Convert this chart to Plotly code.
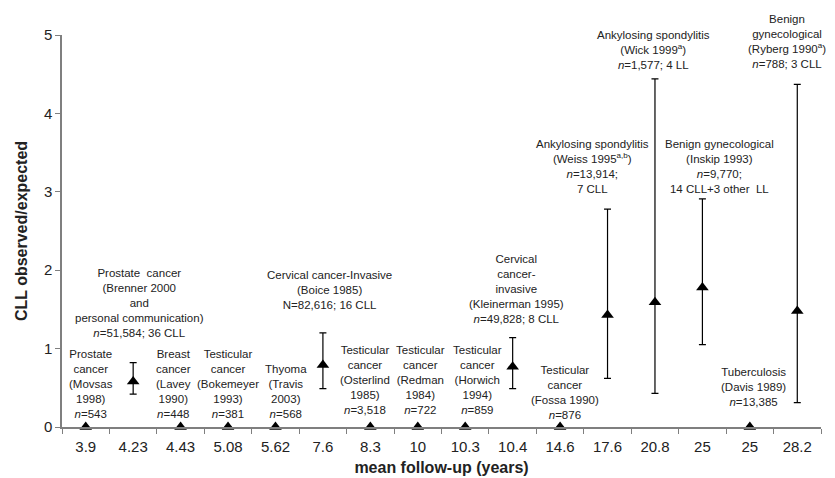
import plotly.graph_objects as go

# ---- data ----
follow_up_labels = ["3.9", "4.23", "4.43", "5.08", "5.62", "7.6", "8.3", "10", "10.3",
                    "10.4", "14.6", "17.6", "20.8", "25", "25", "28.2"]
ratio = [0, 0.58, 0, 0, 0, 0.79, 0, 0, 0, 0.77, 0, 1.43, 1.59, 1.78, 0, 1.48]
ci_upper = [None, 0.82, None, None, None, 1.2, None, None, None, 1.14, None, 2.78, 4.44, 2.91, None, 4.37]
ci_lower = [None, 0.42, None, None, None, 0.49, None, None, None, 0.49, None, 0.62, 0.43, 1.05, None, 0.31]

study_labels = [
    "Prostate<br>cancer<br>(Movsas<br>1998)<br><i>n</i>=543",
    "Prostate  cancer<br>(Brenner 2000<br>and<br>personal communication)<br><i>n</i>=51,584; 36 CLL",
    "Breast<br>cancer<br>(Lavey<br>1990)<br><i>n</i>=448",
    "Testicular<br>cancer<br>(Bokemeyer<br>1993)<br><i>n</i>=381",
    "Thyoma<br>(Travis<br>2003)<br><i>n</i>=568",
    "Cervical cancer-Invasive<br>(Boice 1985)<br>N=82,616; 16 CLL",
    "Testicular<br>cancer<br>(Osterlind<br>1985)<br><i>n</i>=3,518",
    "Testicular<br>cancer<br>(Redman<br>1984)<br><i>n</i>=722",
    "Testicular<br>cancer<br>(Horwich<br>1994)<br><i>n</i>=859",
    "Cervical<br>cancer-<br>invasive<br>(Kleinerman 1995)<br><i>n</i>=49,828; 8 CLL",
    "Testicular<br>cancer<br>(Fossa 1990)<br><i>n</i>=876",
    "Ankylosing spondylitis<br>(Weiss 1995<sup>a,b</sup>)<br><i>n</i>=13,914;<br>7 CLL",
    "Ankylosing spondylitis<br>(Wick 1999<sup>a</sup>)<br><i>n</i>=1,577; 4 LL",
    "Benign gynecological<br>(Inskip 1993)<br><i>n</i>=9,770;<br>14 CLL+3 other  LL",
    "Tuberculosis<br>(Davis 1989)<br><i>n</i>=13,385",
    "Benign<br>gynecological<br>(Ryberg 1990<sup>a</sup>)<br><i>n</i>=788; 3 CLL",
]

# ---- label placement (layout only) ----
label_dx = [0.11, 0.13, -0.16, 0, 0.23, 0.14, -0.11, 0.05, 0.25, 0.09, 0.1, -0.32, -0.04, 0.36, 0.08, -0.21]
label_bottom = [0.07, 1.10, 0.07, 0.07, 0.07, 1.45, 0.12, 0.11, 0.11, 1.28, 0.05, 2.94, 4.52, 2.94, 0.22, 4.53]

x = list(range(len(follow_up_labels)))
err_plus = [(u - v) if u is not None else 0 for u, v in zip(ci_upper, ratio)]
err_minus = [(v - l) if l is not None else 0 for l, v in zip(ci_lower, ratio)]

font_family = "Arial, Liberation Sans, Helvetica, sans-serif"
axis_color = "#7f7f7f"

fig = go.Figure()
fig.add_trace(go.Scatter(
    x=x, y=ratio, mode="markers",
    marker=dict(symbol="triangle-up", size=11, color="black"),
    error_y=dict(type="data", symmetric=False, array=err_plus, arrayminus=err_minus,
                 color="black", thickness=1.2, width=3.5),
    cliponaxis=False, showlegend=False, hoverinfo="skip",
))

for i, txt in enumerate(study_labels):
    fig.add_annotation(x=i + label_dx[i], y=label_bottom[i], text=txt, showarrow=False,
                       xanchor="center", yanchor="bottom", align="center",
                       font=dict(family=font_family, size=11.5, color="#222"))

fig.update_layout(
    width=835, height=478,
    margin=dict(l=62, r=14, t=35, b=51, autoexpand=False),
    plot_bgcolor="white", paper_bgcolor="white",
    font=dict(family=font_family, color="#222"),
    xaxis=dict(
        range=[-0.5, len(x) - 0.5], tickmode="array", tickvals=x, ticktext=follow_up_labels,
        ticks="outside", ticklen=5, tickcolor="rgba(0,0,0,0)", automargin=False,
        showgrid=False, zeroline=False, showline=True, linecolor=axis_color, linewidth=1.5,
        tickfont=dict(size=15, color="#222"),
        minor=dict(tickmode="array", tickvals=[i - 0.5 for i in range(len(x) + 1)],
                   ticks="outside", ticklen=5, tickcolor=axis_color, tickwidth=1.2, showgrid=False),
        title=dict(text="<b>mean follow-up (years)</b>", font=dict(size=16, color="#222"), standoff=8),
    ),
    yaxis=dict(
        range=[0, 5], tickmode="array", tickvals=[0, 1, 2, 3, 4, 5],
        ticks="outside", ticklen=5, tickcolor=axis_color, tickwidth=1.2, automargin=False,
        showgrid=False, zeroline=False, showline=True, linecolor=axis_color, linewidth=1.5,
        tickfont=dict(size=15, color="#222"),
        title=dict(text="<b>CLL observed/expected</b>", font=dict(size=16, color="#222"), standoff=12),
    ),
)

fig.write_html("out.html", config={"displayModeBar": False})

# remove the default page margin so the figure sits at the window origin
with open("out.html", "r", encoding="utf-8") as f:
    html = f.read()
html = html.replace("<head>", "<head><style>html,body{margin:0;padding:0;overflow:hidden;}</style>", 1)
with open("out.html", "w", encoding="utf-8") as f:
    f.write(html)
